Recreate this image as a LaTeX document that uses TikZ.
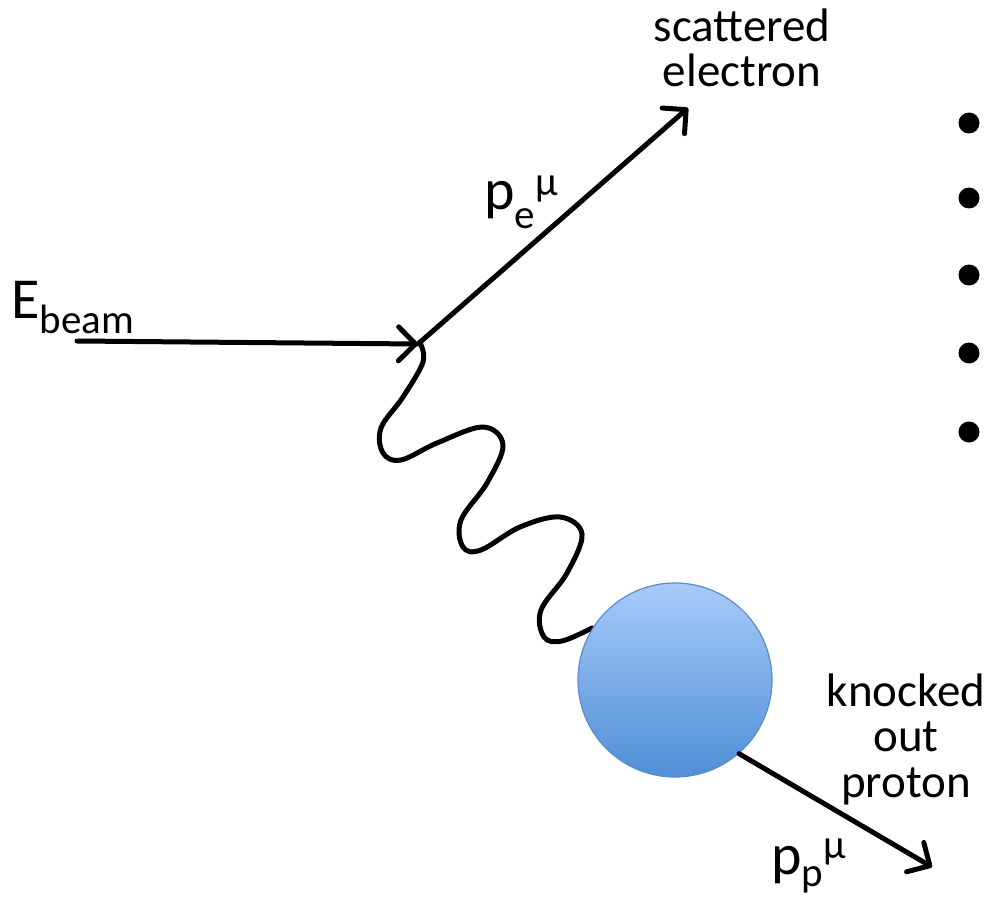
\documentclass[tikz,border=0pt]{standalone}
\usepackage{fontspec}
\setmainfont{Carlito}
\usetikzlibrary{arrows.meta}
\definecolor{blobtop}{HTML}{A7CBFA}
\definecolor{blobbot}{HTML}{4F8FD6}
\definecolor{blobedge}{HTML}{5B8CC8}
\tikzset{
  particle/.style={line width=5pt, line cap=round, line join=round},
  arr/.style={particle, -{Straight Barb[length=17pt, width=34pt, line width=5pt, round]}},
  lbl/.style={inner sep=0pt, font=\fontsize{47}{45.5}\selectfont, align=center},
  sym/.style={inner sep=0pt, anchor=base west},
  dot/.style={fill=black},
}
\newcommand{\bigf}{\fontsize{58}{58}\selectfont}
\newcommand{\smallf}{\fontsize{41}{41}\selectfont}
\begin{document}
\begin{tikzpicture}[x=1pt,y=-1pt]
\useasboundingbox (0,0) rectangle (990,904);
% coordinates
\coordinate (beamstart) at (77,341);
\coordinate (vertex) at (418,344);
\coordinate (etip) at (688,108);
\coordinate (ptip) at (932,867);
% incoming beam
\draw[arr] (beamstart) -- (vertex);
% scattered electron
\draw[arr] (vertex) -- (etip);
% virtual photon
\draw[particle] plot[smooth, tension=0.6] coordinates {
 (420,343) (423,362) (403,397) (381,428) (383,453) (401,460) (437,443)
 (483,427) (503,445) (487,483) (461,520) (463,547) (481,550) (520,527)
 (560,517) (582,534) (567,573) (541,610) (544,637) (562,641) (592,628)};
% nucleon blob
\node[circle, minimum size=194pt, inner sep=0pt, draw=blobedge, line width=1.2pt,
      top color=blobtop, bottom color=blobbot] (blob) at (675,680) {};
% knocked out proton
\draw[arr] (blob.-49) -- (ptip);
% labels
\node[sym] (ebeam) at (11,318) {\bigf E\raisebox{-15pt}{\smallf beam}};
\node[sym] (pe) at (484,210) {\bigf p\raisebox{-19pt}{\smallf e}\raisebox{14pt}{\smallf μ}};
\node[sym] (pp) at (771,874) {\bigf p\raisebox{-12pt}{\smallf p}\raisebox{16pt}{\smallf μ}};
\node[lbl, anchor=base] (scat) at (742,87) {scattered\\electron};
\node[lbl, anchor=base] (knock) at (906,797) {knocked\\out\\proton};
% dots
\foreach \yy [count=\i] in {123,198,275,353,432}
  \fill[dot] (969,\yy) circle[radius=10.5];
\end{tikzpicture}
\end{document}
